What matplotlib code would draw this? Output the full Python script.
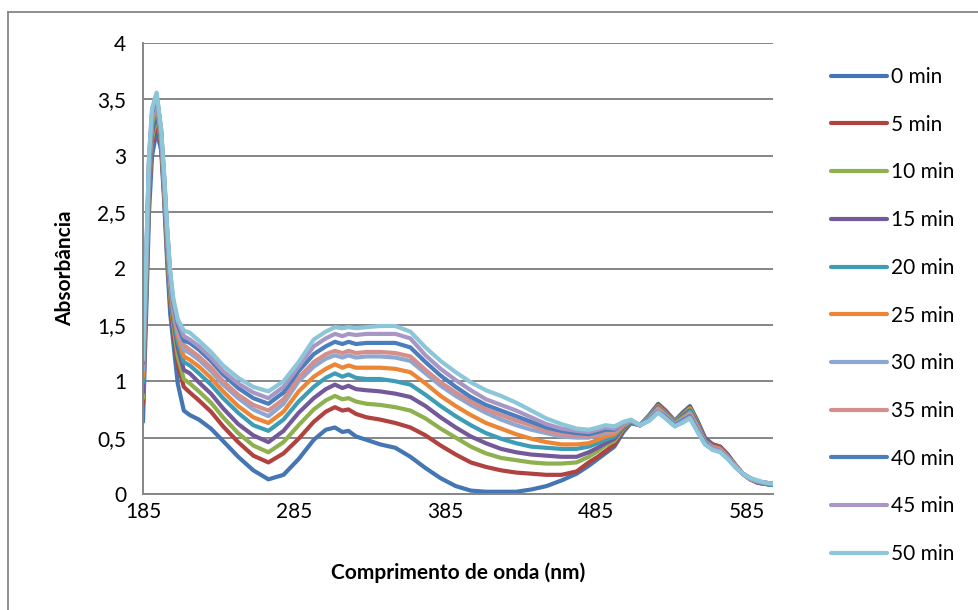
import matplotlib
matplotlib.use("Agg")
import matplotlib.pyplot as plt
from matplotlib.lines import Line2D

# --- données ---
comprimento = [185, 187, 189, 191, 194, 197, 199, 201, 203, 205,
               208, 212, 216, 222, 230, 238, 248, 258, 268, 278,
               288, 298, 306, 312, 317, 321, 326, 333, 342, 352,
               362, 372, 382, 392, 402, 412, 422, 432, 442, 452,
               462, 472, 480, 486, 491, 497, 503, 508, 514, 520,
               526, 531, 537, 542, 547, 552, 557, 562, 567, 572,
               577, 582, 587, 592, 597, 602]

abs_00 = [0.64, 1.55, 2.5, 3.0, 3.22, 3.05, 2.6, 2.05, 1.6, 1.35,
          0.98, 0.74, 0.70, 0.66, 0.58, 0.47, 0.33, 0.21, 0.13, 0.17,
          0.31, 0.48, 0.57, 0.59, 0.55, 0.56, 0.51, 0.48, 0.44, 0.41,
          0.33, 0.23, 0.14, 0.07, 0.03, 0.02, 0.02, 0.02, 0.04, 0.07,
          0.12, 0.18, 0.25, 0.31, 0.36, 0.42, 0.55, 0.63, 0.61, 0.70,
          0.80, 0.74, 0.65, 0.72, 0.78, 0.65, 0.50, 0.44, 0.42, 0.35,
          0.26, 0.18, 0.13, 0.10, 0.09, 0.08]
abs_05 = [0.80, 1.7, 2.65, 3.1, 3.30, 3.1, 2.65, 2.12, 1.7, 1.45,
          1.15, 0.95, 0.90, 0.83, 0.73, 0.60, 0.46, 0.34, 0.28, 0.36,
          0.49, 0.64, 0.73, 0.77, 0.74, 0.75, 0.71, 0.68, 0.66, 0.63,
          0.59, 0.52, 0.43, 0.35, 0.28, 0.24, 0.21, 0.19, 0.18, 0.17,
          0.17, 0.20, 0.28, 0.33, 0.38, 0.44, 0.57, 0.63, 0.61, 0.69,
          0.79, 0.73, 0.64, 0.71, 0.77, 0.64, 0.49, 0.44, 0.42, 0.35,
          0.26, 0.18, 0.13, 0.10, 0.09, 0.08]
abs_10 = [0.85, 1.75, 2.7, 3.15, 3.36, 3.12, 2.68, 2.16, 1.75, 1.5,
          1.22, 1.02, 0.98, 0.91, 0.81, 0.68, 0.54, 0.43, 0.37, 0.46,
          0.61, 0.75, 0.83, 0.87, 0.84, 0.85, 0.82, 0.80, 0.79, 0.77,
          0.74, 0.67, 0.58, 0.50, 0.42, 0.36, 0.32, 0.30, 0.28, 0.27,
          0.27, 0.28, 0.33, 0.38, 0.43, 0.47, 0.58, 0.64, 0.61, 0.69,
          0.78, 0.72, 0.64, 0.70, 0.76, 0.63, 0.48, 0.43, 0.41, 0.34,
          0.26, 0.18, 0.13, 0.10, 0.09, 0.08]
abs_15 = [0.90, 1.8, 2.75, 3.2, 3.40, 3.14, 2.7, 2.2, 1.8, 1.55,
          1.3, 1.1, 1.07, 0.99, 0.89, 0.76, 0.62, 0.52, 0.46, 0.56,
          0.72, 0.85, 0.93, 0.97, 0.94, 0.96, 0.93, 0.92, 0.91, 0.89,
          0.86, 0.78, 0.68, 0.59, 0.51, 0.45, 0.40, 0.37, 0.35, 0.34,
          0.33, 0.33, 0.37, 0.41, 0.45, 0.49, 0.59, 0.64, 0.61, 0.68,
          0.77, 0.71, 0.63, 0.69, 0.74, 0.62, 0.48, 0.43, 0.41, 0.34,
          0.25, 0.18, 0.13, 0.10, 0.09, 0.08]
abs_20 = [0.99, 1.85, 2.8, 3.25, 3.44, 3.16, 2.72, 2.23, 1.83, 1.58,
          1.35, 1.17, 1.14, 1.07, 0.97, 0.85, 0.72, 0.61, 0.56, 0.66,
          0.82, 0.95, 1.03, 1.07, 1.04, 1.06, 1.03, 1.02, 1.02, 1.00,
          0.97, 0.88, 0.78, 0.69, 0.61, 0.54, 0.49, 0.45, 0.42, 0.41,
          0.40, 0.40, 0.42, 0.45, 0.48, 0.51, 0.60, 0.64, 0.61, 0.68,
          0.76, 0.71, 0.63, 0.68, 0.73, 0.61, 0.47, 0.42, 0.40, 0.33,
          0.25, 0.18, 0.13, 0.11, 0.09, 0.08]
abs_25 = [1.04, 1.9, 2.85, 3.3, 3.47, 3.18, 2.74, 2.26, 1.86, 1.62,
          1.4, 1.22, 1.19, 1.13, 1.03, 0.91, 0.78, 0.68, 0.63, 0.73,
          0.91, 1.04, 1.11, 1.15, 1.12, 1.14, 1.12, 1.12, 1.12, 1.11,
          1.08, 0.98, 0.87, 0.78, 0.70, 0.63, 0.58, 0.53, 0.49, 0.46,
          0.44, 0.44, 0.45, 0.48, 0.51, 0.53, 0.61, 0.65, 0.61, 0.67,
          0.76, 0.70, 0.62, 0.67, 0.72, 0.60, 0.46, 0.42, 0.40, 0.33,
          0.25, 0.18, 0.13, 0.11, 0.10, 0.09]
abs_30 = [1.10, 1.95, 2.9, 3.33, 3.50, 3.2, 2.76, 2.29, 1.89, 1.65,
          1.44, 1.28, 1.25, 1.19, 1.09, 0.97, 0.85, 0.75, 0.69, 0.80,
          1.00, 1.13, 1.20, 1.23, 1.21, 1.23, 1.21, 1.22, 1.22, 1.21,
          1.18, 1.07, 0.96, 0.87, 0.79, 0.72, 0.66, 0.61, 0.57, 0.54,
          0.51, 0.50, 0.50, 0.52, 0.54, 0.55, 0.62, 0.65, 0.61, 0.67,
          0.75, 0.69, 0.62, 0.66, 0.71, 0.59, 0.46, 0.41, 0.39, 0.33,
          0.25, 0.18, 0.13, 0.11, 0.10, 0.09]
abs_35 = [1.14, 2.0, 2.95, 3.36, 3.52, 3.21, 2.78, 2.31, 1.92, 1.68,
          1.47, 1.32, 1.28, 1.22, 1.12, 1.0, 0.88, 0.79, 0.74, 0.84,
          1.03, 1.17, 1.24, 1.27, 1.25, 1.27, 1.25, 1.26, 1.26, 1.25,
          1.22, 1.10, 0.99, 0.90, 0.82, 0.75, 0.70, 0.65, 0.61, 0.56,
          0.53, 0.52, 0.51, 0.53, 0.55, 0.56, 0.62, 0.65, 0.61, 0.66,
          0.74, 0.69, 0.61, 0.65, 0.70, 0.58, 0.45, 0.41, 0.39, 0.32,
          0.25, 0.18, 0.14, 0.11, 0.10, 0.09]
abs_40 = [1.16, 2.0, 2.95, 3.38, 3.54, 3.22, 2.8, 2.33, 1.94, 1.7,
          1.5, 1.36, 1.34, 1.28, 1.18, 1.06, 0.94, 0.85, 0.80, 0.90,
          1.09, 1.24, 1.31, 1.35, 1.33, 1.35, 1.33, 1.34, 1.34, 1.34,
          1.30, 1.17, 1.05, 0.95, 0.86, 0.79, 0.74, 0.69, 0.64, 0.59,
          0.56, 0.54, 0.53, 0.55, 0.57, 0.57, 0.63, 0.65, 0.61, 0.66,
          0.73, 0.68, 0.61, 0.65, 0.69, 0.57, 0.45, 0.40, 0.38, 0.32,
          0.24, 0.18, 0.14, 0.11, 0.10, 0.09]
abs_45 = [1.18, 2.05, 3.0, 3.4, 3.55, 3.23, 2.82, 2.35, 1.96, 1.72,
          1.53, 1.40, 1.37, 1.31, 1.21, 1.09, 0.98, 0.90, 0.85, 0.95,
          1.13, 1.31, 1.38, 1.42, 1.40, 1.42, 1.41, 1.42, 1.42, 1.42,
          1.38, 1.23, 1.11, 1.01, 0.92, 0.84, 0.79, 0.74, 0.68, 0.62,
          0.58, 0.56, 0.55, 0.57, 0.59, 0.58, 0.63, 0.65, 0.61, 0.65,
          0.73, 0.67, 0.60, 0.64, 0.68, 0.56, 0.44, 0.40, 0.38, 0.32,
          0.24, 0.18, 0.14, 0.11, 0.10, 0.09]
abs_50 = [1.20, 2.05, 3.0, 3.42, 3.56, 3.24, 2.84, 2.37, 1.98, 1.74,
          1.55, 1.45, 1.43, 1.36, 1.26, 1.14, 1.03, 0.95, 0.91, 1.00,
          1.17, 1.37, 1.44, 1.48, 1.47, 1.48, 1.47, 1.48, 1.49, 1.49,
          1.44, 1.30, 1.18, 1.08, 0.99, 0.92, 0.87, 0.81, 0.74, 0.67,
          0.62, 0.58, 0.57, 0.59, 0.61, 0.60, 0.64, 0.66, 0.61, 0.65,
          0.72, 0.67, 0.60, 0.63, 0.67, 0.55, 0.44, 0.39, 0.37, 0.31,
          0.24, 0.18, 0.14, 0.12, 0.10, 0.09]

series = [abs_00, abs_05, abs_10, abs_15, abs_20, abs_25,
          abs_30, abs_35, abs_40, abs_45, abs_50]
rotulos = ["0 min", "5 min", "10 min", "15 min", "20 min", "25 min",
           "30 min", "35 min", "40 min", "45 min", "50 min"]
cores = ["#4576B4", "#B0423F", "#8FB04F", "#74599A", "#3E9DB6", "#EC8536",
         "#8CA8D2", "#D48E8C", "#4A7EBD", "#A897C4", "#8CC6D9"]

x_ticks = [185, 285, 385, 485, 585]
y_ticks = [0, 0.5, 1, 1.5, 2, 2.5, 3, 3.5, 4]
y_tick_labels = ["0", "0,5", "1", "1,5", "2", "2,5", "3", "3,5", "4"]

plt.rcParams['font.family'] = ['Lato', 'DejaVu Sans']

fig = plt.figure(figsize=(9.79, 6.10), dpi=100)
ax = fig.add_axes([143 / 979, 1 - 494 / 610, (773 - 143) / 979, (494 - 43) / 610])

for y, lab, c in zip(series, rotulos, cores):
    ax.plot(comprimento, y, color=c, linewidth=3.0, label=lab,
            solid_capstyle='round', solid_joinstyle='round')

ax.set_xlim(185, 602)
ax.set_ylim(0, 4)
ax.set_xticks(x_ticks)
ax.set_yticks(y_ticks)
ax.set_yticklabels(y_tick_labels)
ax.tick_params(length=0, labelsize=15, pad=12)
ax.tick_params(axis='x', pad=6)
ax.grid(axis='y', color='#868686', linewidth=1.4)
ax.set_axisbelow(True)
for s in ['top', 'right']:
    ax.spines[s].set_visible(False)
for s in ['left', 'bottom']:
    ax.spines[s].set_color('#868686')
    ax.spines[s].set_linewidth(1.4)

ax.set_xlabel("Comprimento de onda (nm)", fontsize=15, fontweight='bold', labelpad=29)
ax.set_ylabel("Absorbância", fontsize=15, fontweight='bold', labelpad=16)

ax.legend(loc='upper left', bbox_to_anchor=(831 / 979, 1 - 67 / 610),
          bbox_transform=fig.transFigure, frameon=False, fontsize=15,
          handlelength=2.7, handletextpad=0.2, labelspacing=1.33,
          borderaxespad=0, borderpad=0)

# moldura do gráfico (cortada à direita e em baixo)
fig.add_artist(Line2D([8 / 979, 8 / 979], [0, 1 - 12 / 610], color='#868686', linewidth=1.3))
fig.add_artist(Line2D([8 / 979, 1], [1 - 12 / 610, 1 - 12 / 610], color='#868686', linewidth=1.3))

fig.savefig("out.png", dpi=100)
